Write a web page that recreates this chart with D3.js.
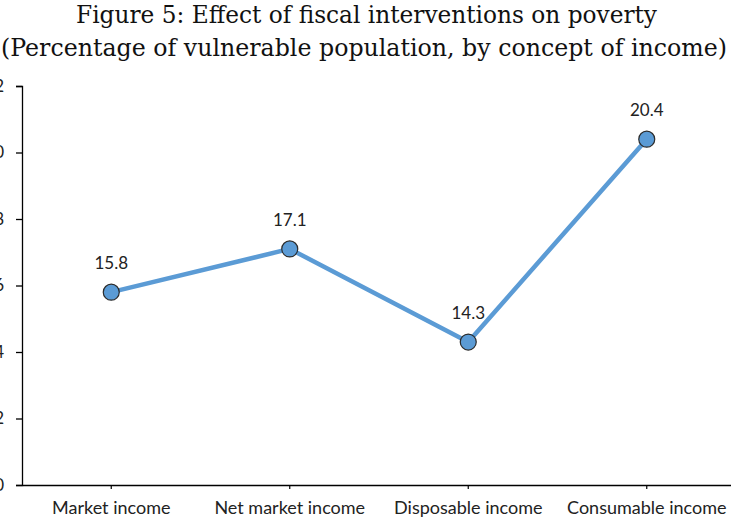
<!DOCTYPE html>
<html>
<head>
<meta charset="utf-8">
<script src="https://cdn.jsdelivr.net/npm/d3@7"></script>
<style>
  html, body { margin: 0; padding: 0; background: #fff; }
  svg { display: block; }
</style>
</head>
<body>
<svg id="chart" width="731" height="525"></svg>
<script>
// Share of vulnerable population by concept of income
const categories = ["Market income", "Net market income", "Disposable income", "Consumable income"];
const values = [15.8, 17.1, 14.3, 20.4];
const yTicks = [10, 12, 14, 16, 18, 20, 22];
const titleLines = [
  "Figure 5: Effect of fiscal interventions on poverty",
  "(Percentage of vulnerable population, by concept of income)"
];

const svg = d3.select("#chart");
const plot = { left: 22, right: 736, top: 86, bottom: 485 };
const labelFont = "Lato, 'Open Sans', sans-serif";

const x = d3.scaleBand()
  .domain(categories)
  .range([plot.left, plot.right])
  .padding(0);
const cx = d => x(d) + x.bandwidth() / 2;

const y = d3.scaleLinear()
  .domain([10, 22])
  .range([plot.bottom, plot.top]);

// Title
const title = svg.append("g")
  .attr("font-family", "'DejaVu Serif', serif")
  .attr("font-size", 24)
  .attr("fill", "#111");
title.append("text")
  .attr("x", 76).attr("y", 23)
  .attr("textLength", 581).attr("lengthAdjust", "spacingAndGlyphs")
  .text(titleLines[0]);
title.append("text")
  .attr("x", 1).attr("y", 56)
  .attr("textLength", 726).attr("lengthAdjust", "spacingAndGlyphs")
  .text(titleLines[1]);

// Y axis
const yAxis = d3.axisLeft(y).tickValues(yTicks).tickSize(6).tickPadding(12).tickFormat(d3.format("d"));
const gy = svg.append("g")
  .attr("transform", `translate(${plot.left},0)`)
  .call(yAxis);
gy.select(".domain").attr("stroke", "#000").attr("stroke-width", 1.3);
gy.selectAll(".tick line").attr("stroke", "#000").attr("stroke-width", 1.3);
gy.selectAll(".tick text")
  .attr("font-family", labelFont)
  .attr("font-size", 17)
  .attr("fill", "#222");

// X axis with ticks under each category
const xAxis = d3.axisBottom(x).tickSize(4).tickPadding(12).tickSizeOuter(0);
const gx = svg.append("g")
  .attr("transform", `translate(0,${plot.bottom})`)
  .call(xAxis);
gx.select(".domain").attr("stroke", "#000").attr("stroke-width", 1.3);
gx.selectAll(".tick line").attr("stroke", "#000").attr("stroke-width", 1.2);
gx.selectAll(".tick text")
  .attr("font-family", labelFont)
  .attr("font-size", 18)
  .attr("fill", "#222");

// Line
const pts = categories.map((c, i) => ({ c, v: values[i] }));
svg.append("path")
  .datum(pts)
  .attr("fill", "none")
  .attr("stroke", "#5B9BD5")
  .attr("stroke-width", 4.5)
  .attr("stroke-linejoin", "round")
  .attr("d", d3.line().x(d => cx(d.c)).y(d => y(d.v)));

// Markers
svg.append("g").selectAll("circle")
  .data(pts)
  .join("circle")
  .attr("cx", d => cx(d.c))
  .attr("cy", d => y(d.v))
  .attr("r", 8)
  .attr("fill", "#5B9BD5")
  .attr("stroke", "#2b2b2b")
  .attr("stroke-width", 1.2);

// Data labels
svg.append("g").selectAll("text")
  .data(pts)
  .join("text")
  .attr("x", d => cx(d.c))
  .attr("y", d => y(d.v) - 23)
  .attr("text-anchor", "middle")
  .attr("font-family", labelFont)
  .attr("font-size", 17)
  .attr("fill", "#222")
  .text(d => d.v.toFixed(1));
</script>
</body>
</html>
